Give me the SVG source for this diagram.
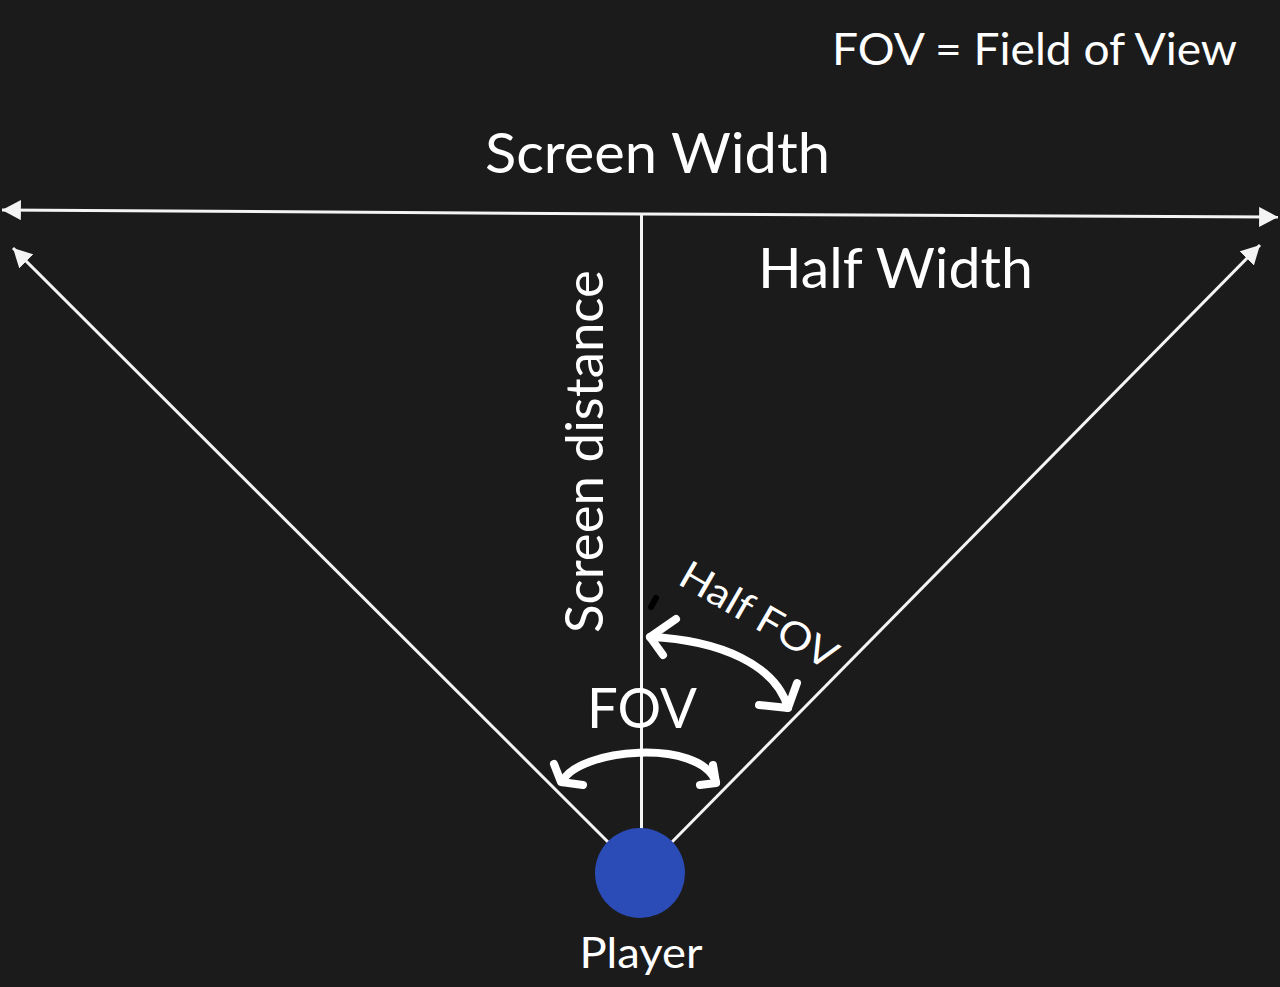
<svg xmlns="http://www.w3.org/2000/svg" width="1280" height="987" viewBox="0 0 1280 987">
<defs>
<style>
.bg{fill:#1b1b1b}
.ln{stroke:#f4f4f4;stroke-width:3;fill:none}
.cv{stroke:#ffffff;stroke-width:8;fill:none;stroke-linecap:round;stroke-linejoin:round}
.t{fill:#ffffff;font-family:Lato,"Open Sans","Liberation Sans",sans-serif}
</style>
<marker id="ah" markerUnits="userSpaceOnUse" markerWidth="20" markerHeight="20" viewBox="0 0 18 18" refX="17" refY="9" orient="auto">
<path d="M0,0 L17,9 L0,18 z" fill="#f4f4f4"/>
</marker>
</defs>
<rect class="bg" x="0" y="0" width="1280" height="987"/>
<g id="connectors">
<line class="ln" x1="641" y1="214" x2="2" y2="210" marker-end="url(#ah)"/>
<line class="ln" x1="641" y1="214" x2="1278" y2="217" marker-end="url(#ah)"/>
<line class="ln" x1="641.5" y1="214" x2="641.5" y2="830"/>
<line class="ln" x1="608" y1="842" x2="13" y2="248" marker-end="url(#ah)"/>
<line class="ln" x1="672" y1="842" x2="1260" y2="245" marker-end="url(#ah)"/>
</g>
<g id="fov-arrow">
<path class="cv" d="M562 782 C578 748 700 738 716 782"/>
<path class="cv" d="M554 764 L561 782 L583 785"/>
<path class="cv" d="M713 765 L716 783 L700 785"/>
</g>
<g id="half-fov-arrow">
<path class="cv" d="M650 637 C720 640 776 665 788 708"/>
<path class="cv" d="M676 619 L650 637 L663 655"/>
<path class="cv" d="M797 683 L788 708 L759 705"/>
<line x1="656" y1="598" x2="651" y2="607" stroke="#000" stroke-width="6" stroke-linecap="round"/>
</g>
<g id="player">
<circle cx="640" cy="873" r="45" fill="#2b4bb6"/>
<text class="t" x="641" y="968" font-size="43" text-anchor="middle" textLength="123" lengthAdjust="spacingAndGlyphs">Player</text>
</g>
<g id="labels">
<text class="t" x="832" y="65" font-size="45" textLength="405" lengthAdjust="spacingAndGlyphs">FOV = Field of View</text>
<text class="t" x="485" y="173" font-size="57" textLength="345" lengthAdjust="spacingAndGlyphs">Screen Width</text>
<text class="t" x="758" y="288" font-size="57" textLength="275" lengthAdjust="spacingAndGlyphs">Half Width</text>
<text class="t" transform="translate(603,633) rotate(-90)" x="0" y="0" font-size="53" textLength="363" lengthAdjust="spacingAndGlyphs">Screen distance</text>
<text class="t" x="587" y="728" font-size="56" textLength="110" lengthAdjust="spacingAndGlyphs">FOV</text>
<text class="t" transform="translate(752,627) rotate(30)" x="0" y="0" font-size="39" text-anchor="middle" textLength="175" lengthAdjust="spacingAndGlyphs">Half FOV</text>
</g>
</svg>
